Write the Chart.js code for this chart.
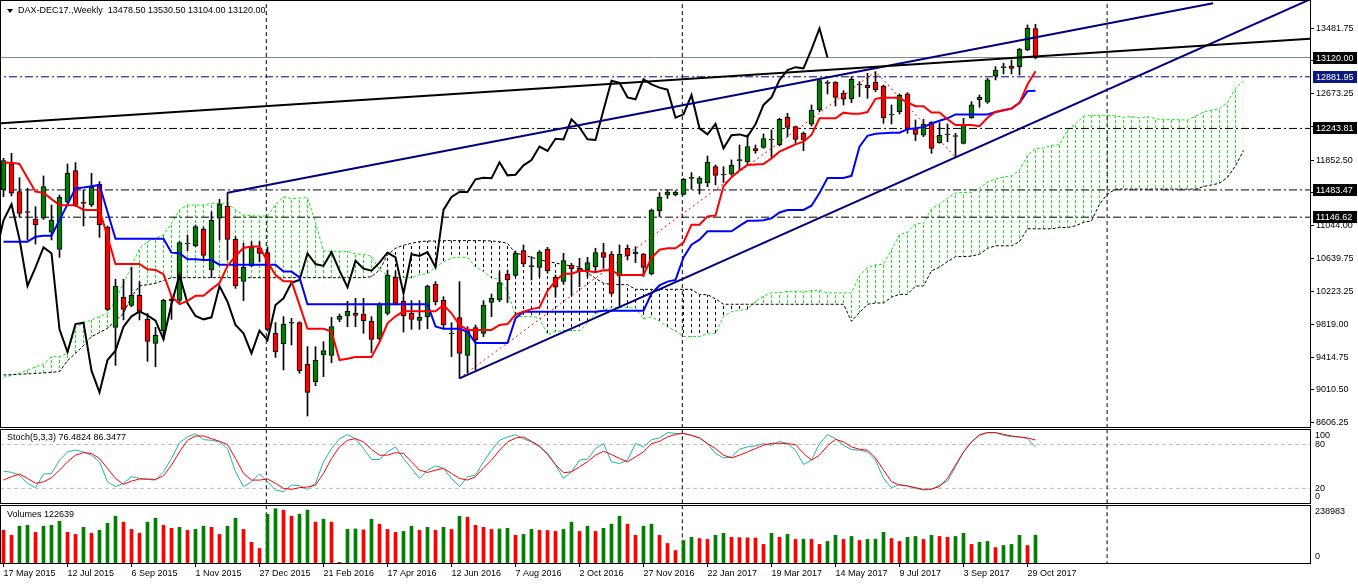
<!DOCTYPE html>
<html>
<head>
<meta charset="utf-8">
<title>DAX-DEC17 Weekly</title>
<script src="https://cdn.jsdelivr.net/npm/chart.js@4.4.1/dist/chart.umd.min.js"></script>
<style>
  html, body { margin: 0; padding: 0; background: #fff; }
  #wrap { position: relative; width: 1358px; height: 584px; overflow: hidden; font-family: 'Liberation Sans', Arial, sans-serif; }
  #wrap canvas { position: absolute; left: 0; }
  .cap { position: absolute; font-size: 9px; line-height: 11px; color: #000; white-space: pre; }
  .tri { position: absolute; left: 7px; top: 9px; width: 0; height: 0;
         border-left: 3px solid transparent; border-right: 3px solid transparent; border-top: 4px solid #000; }
</style>
</head>
<body>
<div id="wrap">
  <canvas id="priceChart" width="1358" height="428" style="top:0;width:1358px;height:428px"></canvas>
  <canvas id="stochChart" width="1358" height="76" style="top:428px;width:1358px;height:76px"></canvas>
  <canvas id="volumeChart" width="1358" height="80" style="top:504px;width:1358px;height:80px"></canvas>
  <div class="tri"></div>
  <div class="cap" id="priceCap" style="left:18px;top:5px"></div>
  <div class="cap" id="stochCap" style="left:7px;top:432px"></div>
  <div class="cap" id="volumeCap" style="left:7px;top:509px"></div>
</div>
<script>
// ---- data (bar 0 = week of 17 May 2015) ----
const symbolName = 'DAX-DEC17.,Weekly';
const dateLabels = ['17 May 2015', '12 Jul 2015', '6 Sep 2015', '1 Nov 2015', '27 Dec 2015', '21 Feb 2016',
  '17 Apr 2016', '12 Jun 2016', '7 Aug 2016', '2 Oct 2016', '27 Nov 2016', '22 Jan 2017', '19 Mar 2017',
  '14 May 2017', '9 Jul 2017', '3 Sep 2017', '29 Oct 2017'];
const dateTickIdx = [0, 8, 16, 24, 32, 40, 48, 56, 64, 72, 80, 88, 96, 104, 112, 120, 128];

const opens = [
  11483, 11804, 11462, 11215, 11120, 11133, 10960, 10749, 11334, 11722,
  11326, 11297, 11553, 11021, 9785, 10156, 10057, 10181, 9884, 9587,
  9740, 10131, 10119, 10815, 10791, 10997, 10494, 11133, 11285, 10873,
  10354, 10543, 10762, 10708, 9711, 9579, 9835, 9843, 9328, 9113,
  9443, 9439, 9884, 9925, 9958, 9950, 9859, 9645, 9958, 10407,
  10107, 9958, 9872, 9917, 10317, 10119, 9703, 9905, 9439, 9781,
  9711, 10094, 10123, 10440, 10428, 10733, 10535, 10527, 10749, 10403,
  10354, 10552, 10514, 10494, 10535, 10708, 10688, 10420, 10762, 10692,
  10692, 10444, 11227, 11421, 11425, 11429, 11627, 11565, 11574, 11771,
  11668, 11677, 11846, 11829, 11994, 12010, 12101, 12039, 12381, 12266,
  12183, 12295, 12472, 12801, 12814, 12678, 12612, 12781, 12777, 12814,
  12768, 12410, 12451, 12670, 12237, 12159, 12319, 12068, 12163, 12150,
  12060, 12377, 12595, 12567, 12892, 12995, 13012, 13008, 13214, 13478.5];
const highs = [
  11874, 11936, 11635, 11503, 11277, 11656, 11297, 11421, 11804, 11821,
  11483, 11689, 11586, 11038, 10379, 10379, 10527, 10350, 9958, 9785,
  10131, 10172, 10844, 10927, 11050, 11021, 11215, 11367, 11450, 10906,
  10824, 10844, 10844, 10774, 9843, 9917, 9896, 9855, 9546, 9546,
  9608, 9909, 9950, 10107, 10144, 10144, 9917, 10090, 10494, 10473,
  10164, 10115, 10115, 10308, 10350, 10164, 9843, 10350, 9793, 9814,
  10115, 10197, 10473, 10494, 10729, 10803, 10659, 10733, 10774, 10432,
  10700, 10576, 10638, 10651, 10762, 10824, 10721, 10803, 10803, 10782,
  10700, 11248, 11450, 11483, 11475, 11627, 11697, 11648, 11903, 11792,
  11771, 11854, 12039, 12163, 12039, 12175, 12225, 12369, 12431, 12274,
  12200, 12534, 12851, 12834, 12822, 12711, 12884, 12822, 12925, 12946,
  12781, 12534, 12670, 12686, 12348, 12356, 12328, 12315, 12299, 12183,
  12369, 12575, 12657, 12863, 13008, 13049, 13090, 13234, 13523, 13530.5];
const lows = [
  11400, 11409, 11145, 10865, 10815, 11120, 10865, 10650, 11297, 11277,
  11038, 11277, 10898, 9991, 9315, 9876, 10041, 9876, 9365, 9299,
  9637, 9884, 10082, 10733, 10782, 10618, 10403, 10865, 10618, 10267,
  10115, 10535, 10597, 9740, 9414, 9258, 9567, 9217, 8689, 9064,
  9175, 9348, 9855, 9793, 9793, 9711, 9472, 9628, 9938, 10061,
  9727, 9760, 9760, 9768, 10061, 9773, 9423, 9155, 9217, 9258,
  9670, 9917, 10102, 10090, 10411, 10535, 10370, 10411, 10453, 10156,
  10321, 10185, 10288, 10411, 10473, 10514, 10185, 10041, 10618, 10585,
  10411, 10432, 11153, 11380, 11409, 11421, 11491, 11433, 11524, 11545,
  11574, 11664, 11730, 11792, 11936, 11998, 11887, 12027, 12142, 12060,
  11969, 12274, 12451, 12670, 12521, 12534, 12562, 12637, 12616, 12698,
  12307, 12299, 12422, 12183, 12093, 12142, 11936, 12060, 12080, 11887,
  12052, 12369, 12505, 12554, 12843, 12917, 12917, 12905, 13205, 13104];
const closes = [
  11845, 11442, 11194, 11205, 11050, 11524, 11112, 11392, 11689, 11297,
  11318, 11516, 11050, 10008, 10296, 10008, 10181, 9983, 9612, 9686,
  10119, 10110, 10832, 10822, 11030, 10675, 11108, 11306, 10873, 10296,
  10527, 10774, 10700, 9760, 9480, 9826, 9843, 9249, 8982, 9381,
  9497, 9793, 9921, 9983, 9933, 9867, 9637, 10074, 10432, 10082,
  9925, 9884, 9909, 10296, 10102, 9814, 9710, 9464, 9744, 9628,
  10061, 10144, 10337, 10370, 10700, 10568, 10545, 10716, 10486, 10280,
  10609, 10510, 10486, 10585, 10708, 10650, 10205, 10688, 10667, 10716,
  10527, 11236, 11396, 11458, 11458, 11615, 11633, 11627, 11825, 11664,
  11672, 11788, 11852, 12019, 11965, 12117, 12108, 12356, 12257, 12109,
  12101, 12472, 12834, 12808, 12628, 12604, 12851, 12788, 12748, 12723,
  12377, 12418, 12657, 12245, 12171, 12299, 11998, 12159, 12170, 12144,
  12295, 12534, 12628, 12843, 12966, 13001, 12987, 13222, 13481, 13120];

// Ichimoku lines as drawn on the chart
const tenkan = [
  11821, 11821, 11804, 11630, 11462, 11450, 11370, 11297, 11293, 11293,
  11236, 11236, 11236, 10906, 10568, 10568, 10568, 10568, 10502, 10494,
  10443, 10169, 10072, 10113, 10175, 10175, 10257, 10333, 10544, 10667,
  10766, 10783, 10783, 10595, 10432, 10354, 10354, 10062, 9767, 9767,
  9767, 9732, 9380, 9398, 9417, 9417, 9417, 9604, 9835, 9921,
  9983, 9983, 9983, 9983, 9983, 10061, 9959, 9814, 9753, 9753,
  9753, 9753, 9814, 9825, 9942, 9979, 10010, 10031, 10237, 10360,
  10447, 10447, 10480, 10480, 10465, 10490, 10490, 10432, 10432, 10432,
  10432, 10645, 10745, 10762, 10762, 10834, 11054, 11054, 11157, 11167,
  11528, 11641, 11724, 11792, 11798, 11804, 11874, 11957, 12002, 12047,
  12080, 12163, 12369, 12369, 12369, 12439, 12426, 12426, 12447, 12610,
  12626, 12622, 12622, 12564, 12519, 12519, 12441, 12441, 12358, 12286,
  12286, 12286, 12272, 12375, 12447, 12468, 12488, 12560, 12787, 12950];
const kijun = [
  10844, 10844, 10844, 10844, 10906, 10918, 10918, 11110, 11305, 11503,
  11515, 11530, 11545, 11210, 10881, 10881, 10881, 10881, 10881, 10881,
  10881, 10708, 10700, 10626, 10626, 10617, 10617, 10560, 10560, 10560,
  10560, 10560, 10560, 10560, 10560, 10474, 10474, 10402, 10070, 10070,
  10070, 10070, 10070, 10070, 10070, 10070, 10070, 10070, 10070, 10070,
  10070, 10070, 10070, 10070, 9797, 9766, 9766, 9766, 9731, 9591,
  9591, 9591, 9591, 9591, 9896, 9979, 9979, 9979, 9979, 9979,
  9979, 9979, 9979, 9979, 9979, 9990, 9990, 9990, 9990, 9990,
  9990, 10202, 10303, 10350, 10371, 10649, 10807, 10869, 10972, 10972,
  10972, 10972, 11040, 11102, 11102, 11108, 11133, 11205, 11236, 11236,
  11236, 11288, 11446, 11631, 11631, 11631, 11658, 12019, 12153, 12178,
  12184, 12190, 12190, 12235, 12246, 12260, 12305, 12338, 12369, 12417,
  12417, 12417, 12417, 12417, 12448, 12468, 12489, 12561, 12705, 12709];
// the cloud is drawn 26 bars ahead, so these run to bar 155
const senkouA = [
  9167, 9190, 9220, 9258, 9295, 9332, 9423, 9423, 9464, 9773,
  9843, 9876, 9917, 9958, 10123, 10330, 10535, 10762, 10844, 10885,
  10927, 11071, 11236, 11297, 11297, 11297, 11318, 11318, 11318, 11236,
  11174, 11165, 11161, 11160, 11299, 11398, 11375, 11383, 11390, 11080,
  10730, 10724, 10724, 10724, 10691, 10687, 10662, 10494, 10432, 10405,
  10400, 10396, 10437, 10447, 10531, 10593, 10643, 10651, 10651, 10529,
  10476, 10393, 10381, 10232, 9919, 9919, 9919, 9901, 9695, 9734,
  9744, 9744, 9744, 9837, 9953, 9996, 10027, 10027, 10027, 10027,
  9890, 9914, 9863, 9790, 9742, 9672, 9672, 9672, 9703, 9708,
  9919, 9979, 9995, 10005, 10108, 10170, 10213, 10213, 10230, 10230,
  10222, 10240, 10240, 10211, 10211, 10211, 10211, 10424, 10524, 10556,
  10567, 10742, 10931, 10962, 11065, 11070, 11250, 11307, 11382, 11447,
  11450, 11456, 11504, 11581, 11619, 11642, 11658, 11726, 11908, 12000,
  12000, 12035, 12042, 12223, 12300, 12394, 12405, 12406, 12406, 12400,
  12383, 12390, 12373, 12390, 12364, 12352, 12352, 12352, 12345, 12396,
  12448, 12468, 12489, 12561, 12746, 12830];
const senkouB = [
  9196, 9200, 9205, 9210, 9215, 9222, 9230, 9237, 9373, 9464,
  9560, 9670, 9720, 9773, 9870, 9958, 10164, 10296, 10313, 10329,
  10365, 10399, 10399, 10399, 10399, 10399, 10399, 10399, 10399, 10399,
  10399, 10399, 10399, 10399, 10399, 10399, 10399, 10399, 10399, 10399,
  10399, 10399, 10399, 10399, 10399, 10399, 10411, 10494, 10680, 10762,
  10800, 10824, 10844, 10852, 10852, 10857, 10857, 10857, 10857, 10857,
  10857, 10852, 10844, 10824, 10700, 10680, 10650, 10620, 10600, 10580,
  10560, 10545, 10530, 10460, 10390, 10330, 10313, 10313, 10313, 10255,
  10255, 10255, 10255, 10255, 10255, 10255, 10255, 10189, 10189, 10138,
  10070, 10070, 10070, 10070, 10070, 10070, 10070, 10070, 10070, 10070,
  10070, 10070, 10070, 10070, 10070, 10070, 9860, 9968, 10070, 10086,
  10086, 10158, 10193, 10193, 10296, 10296, 10483, 10529, 10597, 10659,
  10659, 10665, 10690, 10762, 10793, 10793, 10793, 10844, 11003, 11003,
  11003, 11003, 11019, 11019, 11040, 11082, 11102, 11308, 11432, 11494,
  11494, 11494, 11494, 11494, 11494, 11494, 11494, 11494, 11494, 11494,
  11525, 11545, 11566, 11638, 11782, 11971];
const chikouShift = 26;

const stochMain = [
  43.7, 42, 38, 27, 21, 39.6, 40.5, 58.7, 70, 72.7,
  70, 65.5, 56.4, 29, 22.4, 27, 36, 33.7, 32.3, 31.4,
  42.8, 61, 82.7, 90.5, 95, 86.8, 86, 83.6, 74.6, 42.8,
  22.4, 29, 40, 29, 17.8, 15.5, 24.6, 23.7, 18.7, 26.9,
  56.4, 74.6, 88, 93.6, 88, 74.6, 59.6, 59.6, 70, 76.8,
  61, 47.3, 33.7, 45, 51, 47.3, 33.7, 22.4, 36, 38.2,
  56.4, 72.3, 85.9, 90.5, 93.6, 88, 83.6, 76.8, 68.7, 51.9,
  33.7, 42.8, 58.7, 60, 74.6, 81.4, 56.4, 54.1, 58.7, 81.4,
  76.8, 86.8, 89.1, 96.4, 95.4, 95, 92.7, 89.1, 81.4, 67.8,
  61.8, 63.2, 73.7, 76.8, 78.2, 81.4, 79.1, 84.5, 81.4, 72.3,
  52.8, 58.7, 81.4, 93.6, 88.2, 79.1, 73.2, 72.3, 70, 58.7,
  33.7, 21, 25.5, 23.3, 20.1, 17.8, 18.7, 24.6, 30, 49.6,
  70, 83.6, 92.7, 96.4, 96.4, 92.7, 90.9, 90.5, 88.2, 76.4824];
const stochSignal = [
  31.4, 36, 39.6, 33.7, 27, 29, 34.6, 45, 56.4, 65.5,
  69, 67.8, 61, 47.3, 33.7, 25.5, 30, 32.8, 32.8, 32.3,
  37.3, 51.9, 70, 85.9, 91.8, 91.8, 88.2, 84.5, 80, 61,
  40.5, 31.4, 31.4, 32.8, 27, 20, 18.7, 21, 21.9, 24.6,
  40.5, 61, 76.8, 85.9, 88.2, 83.6, 73.6, 65.5, 65.5, 69,
  67.8, 56.4, 45, 41.9, 45, 47.3, 40.5, 33.7, 31.4, 36,
  48.2, 58.7, 72.3, 83.6, 89, 90.5, 84.5, 78.2, 66.4, 52.8,
  41.4, 42.8, 49.6, 56.4, 65.5, 70.9, 66.4, 61, 56.4, 63.2,
  70, 81.4, 84.5, 90.5, 94, 95.4, 92.7, 89.1, 81.4, 74.6,
  65.5, 61.8, 65.5, 70, 74.6, 79.1, 81.8, 81.8, 81.4, 80,
  67.8, 58.7, 65.5, 78.2, 87.3, 83.6, 76.8, 73.6, 72.3, 61.8,
  45, 29.2, 24.6, 23.3, 21, 18.7, 19.2, 22.4, 33.7, 51.9,
  70, 83.6, 93.6, 96.4, 96.4, 94.1, 91.8, 90.5, 89.1, 86.3477];
const stochLevels = [20, 80];

const volumes = [
  144000, 122000, 162000, 166000, 135000, 162000, 166000, 184000, 135000, 126000,
  157000, 131000, 144000, 175000, 206000, 180000, 148000, 131000, 180000, 197000,
  166000, 153000, 157000, 144000, 148000, 162000, 157000, 126000, 162000, 197000,
  148000, 91000, 64000, 215000, 238983, 233000, 206000, 215000, 233000, 180000,
  193000, 180000, 3000, 148000, 150000, 146000, 193000, 171000, 148000, 135000,
  139000, 162000, 144000, 157000, 144000, 157000, 148000, 206000, 202000, 166000,
  157000, 148000, 150000, 153000, 122000, 126000, 148000, 144000, 143000, 139000,
  148000, 180000, 139000, 162000, 139000, 153000, 171000, 206000, 171000, 122000,
  162000, 171000, 122000, 86000, 55000, 99000, 113000, 108000, 104000, 122000,
  131000, 113000, 112000, 111000, 110000, 82000, 131000, 113000, 126000, 104000,
  105000, 104000, 82000, 95000, 122000, 104000, 117000, 99000, 104000, 105000,
  135000, 108000, 95000, 113000, 117000, 104000, 122000, 117000, 113000, 117000,
  131000, 82000, 91000, 95000, 68000, 77000, 82000, 122000, 77000, 122639];
// g = volume up on the week, r = down
const volumeUp = 'rrggrgggrr' + 'grgggrrrgg' + 'rrgrggrrgg' + 'rrrggrrggr' + 'grrggrgrrr' +
  'ggrgrgrgrr' + 'rrggrggrrr' + 'ggrgrgggrr' + 'ggrrrggrrg' + 'grrrrrgrgr' +
  'grrggrgrgg' + 'grrggrgrrg' + 'grggrgggrg';

const priceTicks = [13481.75, 13077.50, 12673.25, 12269.00, 11852.50, 11448.25, 11044.00,
  10639.75, 10223.25, 9819.00, 9414.75, 9010.50, 8606.25];
const levelPrices = [13120.00, 12881.95, 12243.81, 11483.47, 11146.62];
const separatorIdx = [32.85, 84.85, 137.95];
const upperChannelIdx = [28, 151.2];
const upperChannelPrice = [11450, 13791];
const lowerChannelIdx = [57, 165];
const lowerChannelPrice = [9155, 13913];
const blackLineIdx = [-1, 165];
const blackLinePrice = [12304, 13362];
const zigzagIdx = [57, 109, 119];
const zigzagPrice = [9155, 12946, 11887];

// ---- axis ranges ----
const X_MIN = -0.3125, X_MAX = 163.3125;
const PRICE_MIN = 8553, PRICE_MAX = 13819;
const VOLUME_MAX = 251000;
const FONT = "9px 'Liberation Sans', Arial, sans-serif";

Chart.defaults.font.family = "'Liberation Sans', Arial, sans-serif";
Chart.defaults.font.size = 9;
Chart.defaults.color = '#000';
Chart.defaults.animation = false;
Chart.defaults.events = [];
Chart.defaults.plugins.legend.display = false;
Chart.defaults.plugins.tooltip.enabled = false;

function series(values) {
  return values.map((v, i) => ({ x: i, y: v }));
}
function segment(xs, ys) {
  return xs.map((x, k) => ({ x: x, y: ys[k] }));
}
function line(data, color, width, dash, order, extra) {
  return Object.assign({
    type: 'line', data: data, borderColor: color, borderWidth: width, borderDash: dash,
    pointRadius: 0, tension: 0, fill: false, order: order
  }, extra || {});
}
function separators(lo, hi) {
  return separatorIdx.map(s => line(segment([s, s], [lo, hi]), '#000', 1, [4, 3], 25));
}
function hatchPattern(ctx, color, dashOn, period) {
  const tile = document.createElement('canvas');
  tile.width = 8;
  tile.height = period;
  const t = tile.getContext('2d');
  t.fillStyle = color;
  t.fillRect(3, 0, 1, dashOn);
  return ctx.createPattern(tile, 'repeat');
}
function hiddenX() {
  return { type: 'linear', min: X_MIN, max: X_MAX, offset: false, bounds: 'data', display: false };
}

const framePlugin = {
  id: 'frame',
  afterDraw(chart) {
    const ctx = chart.ctx, a = chart.chartArea;
    ctx.save();
    ctx.strokeStyle = '#000';
    ctx.lineWidth = 1;
    ctx.strokeRect(a.left - 0.5, a.top - 0.5, a.right - a.left + 1, a.bottom - a.top + 1);
    ctx.restore();
  }
};

// small labels on the right of the lower panels, kept inside the panel like the terminal does
function sideLabels(values, fmt) {
  return {
    id: 'sideLabels',
    afterDraw(chart) {
      const ctx = chart.ctx, a = chart.chartArea, y = chart.scales.y;
      ctx.save();
      ctx.font = FONT;
      ctx.fillStyle = '#000';
      ctx.textBaseline = 'middle';
      values.forEach(v => {
        const py = Math.min(Math.max(y.getPixelForValue(v), a.top + 6), a.bottom - 6);
        ctx.fillText(fmt(v), a.right + 5, py);
      });
      ctx.restore();
    }
  };
}

// ---- price panel ----
const levelStyle = [
  { line: '#778899', dash: [], box: '#000' },
  { line: '#000080', dash: [8, 3, 2, 3], box: '#0a1a80' },
  { line: '#000', dash: [8, 3, 2, 3], box: '#000' },
  { line: '#000', dash: [8, 3, 2, 3], box: '#000' },
  { line: '#000', dash: [8, 3, 2, 3], box: '#000' }
];

const priceBoxes = {
  id: 'priceBoxes',
  afterDraw(chart) {
    const ctx = chart.ctx, a = chart.chartArea, y = chart.scales.y;
    ctx.save();
    ctx.font = FONT;
    ctx.textBaseline = 'middle';
    levelPrices.forEach((v, k) => {
      const py = Math.round(y.getPixelForValue(v));
      ctx.fillStyle = levelStyle[k].box;
      ctx.fillRect(a.right + 3, py - 6, chart.width - a.right - 4, 12);
      ctx.fillStyle = '#fff';
      ctx.fillText(v.toFixed(2), a.right + 6, py + 0.5);
    });
    ctx.restore();
  }
};

const priceCanvas = document.getElementById('priceChart');
const priceCtx = priceCanvas.getContext('2d');
const greenHatch = hatchPattern(priceCtx, '#19e619', 3, 5);
const blackHatch = hatchPattern(priceCtx, '#000', 3, 6);

const priceDatasets = [
  line(series(senkouA), '#19e619', 1, [3, 2], 30, { fill: { target: 1, above: greenHatch, below: blackHatch } }),
  line(series(senkouB), '#000', 1, [3, 2], 29)
];
separators(PRICE_MIN - 100, PRICE_MAX + 100).forEach(d => priceDatasets.push(d));
levelPrices.forEach((v, k) => {
  priceDatasets.push(line(segment([X_MIN - 1, X_MAX + 1], [v, v]), levelStyle[k].line, 1, levelStyle[k].dash, 24));
});
priceDatasets.push({
  type: 'bar', order: 20, grouped: false, barThickness: 1,
  data: lows.map((l, i) => ({ x: i, y: [l, highs[i]] })),
  backgroundColor: '#000'
});
priceDatasets.push({
  type: 'bar', order: 19, grouped: false, barThickness: 5, minBarLength: 1,
  data: opens.map((o, i) => ({ x: i, y: [o, closes[i]] })),
  backgroundColor: opens.map((o, i) => closes[i] >= o ? '#008000' : '#ff0000'),
  borderColor: '#000', borderWidth: 1, borderSkipped: false
});
priceDatasets.push(line(closes.map((c, i) => ({ x: i - chikouShift, y: c })), '#000', 2, [], 10));
priceDatasets.push(line(series(kijun), '#0000ff', 2, [], 9));
priceDatasets.push(line(series(tenkan), '#ff0000', 2, [], 8));
priceDatasets.push(line(segment(zigzagIdx, zigzagPrice), '#ff0000', 1, [2, 3], 6));
priceDatasets.push(line(segment(lowerChannelIdx, lowerChannelPrice), '#000080', 2, [], 5));
priceDatasets.push(line(segment(upperChannelIdx, upperChannelPrice), '#000080', 2, [], 4));
priceDatasets.push(line(segment(blackLineIdx, blackLinePrice), '#000', 2, [], 3));

new Chart(priceCanvas, {
  type: 'line',
  data: { datasets: priceDatasets },
  options: {
    responsive: false,
    layout: { padding: { left: 1, top: 1, bottom: 1, right: 0 } },
    scales: {
      x: hiddenX(),
      y: {
        type: 'linear', position: 'right', min: PRICE_MIN, max: PRICE_MAX, bounds: 'data',
        afterBuildTicks: s => { s.ticks = priceTicks.map(v => ({ value: v })); },
        afterFit: s => { s.width = 48; s.paddingTop = 0; s.paddingBottom = 0; },
        ticks: { autoSkip: false, padding: 2, color: '#000', callback: v => Number(v).toFixed(2) },
        grid: { drawOnChartArea: false, tickLength: 4, color: '#000' },
        border: { display: false }
      }
    }
  },
  plugins: [framePlugin, priceBoxes]
});

// ---- stochastic panel ----
const stochDatasets = [];
stochLevels.forEach(v => stochDatasets.push(line(segment([X_MIN - 1, X_MAX + 1], [v, v]), '#c0c0c0', 1, [4, 3], 28)));
separators(-10, 110).forEach(d => stochDatasets.push(d));
stochDatasets.push(line(series(stochMain), '#20b2aa', 1, [], 6));
stochDatasets.push(line(series(stochSignal), '#ff0000', 1, [], 5));

new Chart(document.getElementById('stochChart'), {
  type: 'line',
  data: { datasets: stochDatasets },
  options: {
    responsive: false,
    layout: { padding: { left: 1, top: 2, bottom: 1, right: 48 } },
    scales: {
      x: hiddenX(),
      y: { type: 'linear', min: 0, max: 100, display: false }
    }
  },
  plugins: [framePlugin, sideLabels([100, 80, 20, 0], v => String(v))]
});

// ---- volume panel ----
const volumeDatasets = separators(-10000, VOLUME_MAX + 10000);
volumeDatasets.push({
  type: 'bar', order: 5, grouped: false, barThickness: 3,
  data: series(volumes),
  backgroundColor: volumes.map((v, i) => volumeUp[i] === 'g' ? '#008000' : '#ff0000')
});

new Chart(document.getElementById('volumeChart'), {
  type: 'bar',
  data: { datasets: volumeDatasets },
  options: {
    responsive: false,
    layout: { padding: { left: 1, top: 2, bottom: 0, right: 48 } },
    scales: {
      x: {
        type: 'linear', min: X_MIN, max: X_MAX, offset: false, bounds: 'data', position: 'bottom',
        afterBuildTicks: s => { s.ticks = dateTickIdx.map(v => ({ value: v })); },
        afterFit: s => { s.height = 21; s.paddingLeft = 0; s.paddingRight = 0; },
        ticks: {
          autoSkip: false, maxRotation: 0, minRotation: 0, align: 'start', padding: 1, color: '#000',
          callback: (v, k) => dateLabels[k]
        },
        grid: { drawOnChartArea: false, tickLength: 4, color: '#000', offset: false },
        border: { display: false }
      },
      y: { type: 'linear', min: 0, max: VOLUME_MAX, display: false }
    }
  },
  plugins: [framePlugin, sideLabels([Math.max.apply(null, volumes), 0], v => String(v))]
});

// ---- panel captions ----
const last = opens.length - 1;
document.getElementById('priceCap').textContent = symbolName + '  ' +
  [opens[last], highs[last], lows[last], closes[last]].map(v => v.toFixed(2)).join(' ');
document.getElementById('stochCap').textContent = 'Stoch(5,3,3) ' +
  stochMain[last].toFixed(4) + ' ' + stochSignal[last].toFixed(4);
document.getElementById('volumeCap').textContent = 'Volumes ' + volumes[last];
</script>
</body>
</html>
